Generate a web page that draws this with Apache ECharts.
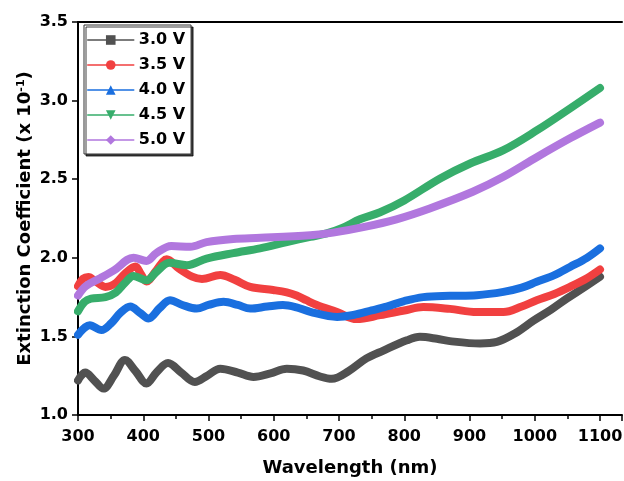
<!DOCTYPE html>
<html>
<head>
<meta charset="utf-8">
<script src="https://cdn.jsdelivr.net/npm/echarts@6/dist/echarts.min.js"></script>
<style>html,body{margin:0;padding:0;background:#fff}#c{width:624px;height:481px}</style>
</head>
<body>
<div id="c"></div>
<script>
// Data
const seriesNames = ['3.0 V', '3.5 V', '4.0 V', '4.5 V', '5.0 V'];
const xTicks = [300, 400, 500, 600, 700, 800, 900, 1000, 1100];
const yTicks = [1.0, 1.5, 2.0, 2.5, 3.0, 3.5];

const wl30 = [300, 311, 325, 339, 355, 372, 388, 405, 420, 438, 458, 479, 498, 518, 545, 569, 595, 620, 645, 671, 689, 715, 742, 768, 804, 824, 850, 870, 916, 942, 970, 998, 1025, 1049, 1075, 1100];
const v30  = [1.22, 1.27, 1.22, 1.168, 1.25, 1.35, 1.28, 1.20, 1.27, 1.33, 1.27, 1.21, 1.25, 1.295, 1.27, 1.242, 1.265, 1.295, 1.283, 1.245, 1.23, 1.28, 1.36, 1.41, 1.475, 1.497, 1.485, 1.47, 1.455, 1.465, 1.52, 1.60, 1.67, 1.74, 1.81, 1.88];

const wl35 = [300, 308, 316, 327, 342, 358, 372, 388, 396, 405, 420, 436, 455, 475, 490, 518, 540, 564, 599, 620, 635, 650, 666, 697, 727, 763, 800, 829, 870, 911, 952, 980, 1003, 1030, 1054, 1080, 1100];
const v35  = [1.82, 1.868, 1.878, 1.85, 1.815, 1.84, 1.90, 1.945, 1.90, 1.85, 1.92, 1.99, 1.93, 1.88, 1.865, 1.89, 1.86, 1.815, 1.795, 1.78, 1.76, 1.73, 1.70, 1.655, 1.61, 1.635, 1.665, 1.687, 1.675, 1.655, 1.655, 1.69, 1.73, 1.77, 1.815, 1.87, 1.925];

const wl40 = [300, 318, 336, 350, 365, 380, 395, 408, 425, 441, 460, 482, 500, 523, 545, 564, 590, 614, 635, 656, 697, 722, 750, 773, 800, 829, 870, 911, 952, 980, 1003, 1030, 1054, 1080, 1100];
const v40  = [1.51, 1.571, 1.54, 1.58, 1.65, 1.69, 1.65, 1.614, 1.68, 1.73, 1.70, 1.677, 1.70, 1.72, 1.70, 1.677, 1.69, 1.70, 1.685, 1.656, 1.624, 1.636, 1.665, 1.69, 1.725, 1.75, 1.758, 1.762, 1.783, 1.81, 1.847, 1.89, 1.942, 2.0, 2.06];

const wl45 = [300, 310, 320, 342, 358, 372, 385, 405, 420, 440, 467, 497, 538, 579, 620, 656, 681, 705, 732, 763, 800, 855, 901, 952, 1003, 1054, 1100];
const v45  = [1.66, 1.72, 1.74, 1.75, 1.78, 1.84, 1.885, 1.857, 1.91, 1.968, 1.953, 1.995, 2.03, 2.06, 2.10, 2.133, 2.155, 2.19, 2.245, 2.29, 2.365, 2.505, 2.60, 2.685, 2.81, 2.95, 3.08];

const wl50 = [300, 312, 334, 355, 385, 405, 420, 443, 472, 497, 538, 580, 656, 691, 737, 788, 839, 905, 952, 1003, 1054, 1100];
const v50  = [1.76, 1.82, 1.87, 1.92, 2.0, 1.98, 2.03, 2.075, 2.07, 2.10, 2.12, 2.127, 2.144, 2.16, 2.195, 2.245, 2.314, 2.42, 2.515, 2.64, 2.76, 2.86];

const colors = ['#515151', '#F14040', '#1A6FDF', '#37AD6B', '#B177DE'];
const symbols = ['rect', 'circle', 'triangle', 'path://M0,0 L10,0 L5,10 Z', 'diamond'];
const xs = [wl30, wl35, wl40, wl45, wl50];
const ys = [v30, v35, v40, v45, v50];

const FONT = 'DejaVu Sans';
const chart = echarts.init(document.getElementById('c'), null, {renderer: 'canvas'});

const series = seriesNames.map((n, i) => ({
  name: n,
  type: 'line',
  data: xs[i].map((x, k) => [x, ys[i][k]]),
  smooth: 0.35,
  symbol: symbols[i],
  symbolSize: 10,
  showSymbol: false,
  lineStyle: {width: 8, color: colors[i], cap: 'round', join: 'round'},
  itemStyle: {color: colors[i]},
  emphasis: {disabled: true},
  animation: false
}));

chart.setOption({
  animation: false,
  backgroundColor: '#fff',
  grid: {left: 78, top: 22, width: 544, height: 393, containLabel: false, outerBoundsMode: 'none'},
  legend: {
    orient: 'vertical',
    left: 84, top: 25,
    padding: [7, 6, 6, 3],
    itemWidth: 46, itemHeight: 12, itemGap: 9,
    backgroundColor: '#fff',
    borderColor: '#333', borderWidth: 1,
    shadowColor: 'rgba(0,0,0,0.75)', shadowOffsetX: 2, shadowOffsetY: 2, shadowBlur: 0,
    lineStyle: {width: 1.5},
    textStyle: {fontFamily: FONT, fontWeight: 'bold', fontSize: 16, color: '#000'},
    data: seriesNames.slice()
  },
  xAxis: [{
    type: 'value', min: 300, max: 1133.7, interval: 100,
    name: 'Wavelength (nm)', nameLocation: 'middle', nameGap: 44, nameMoveOverlap: false,
    nameTextStyle: {fontFamily: FONT, fontWeight: 'bold', fontSize: 18, color: '#000'},
    axisLine: {lineStyle: {color: '#000', width: 2}},
    axisTick: {inside: false, length: 6, lineStyle: {color: '#000', width: 1.5}},
    minorTick: {show: true, splitNumber: 2, length: 4, lineStyle: {color: '#000', width: 1.5}},
    splitLine: {show: false},
    axisLabel: {fontFamily: FONT, fontWeight: 'bold', fontSize: 16, color: '#000', margin: 14, showMaxLabel: false,
      formatter: v => xTicks.indexOf(v) >= 0 ? String(v) : ''}
  }, {
    type: 'value', position: 'top', min: 300, max: 1133.7,
    axisLine: {show: true, onZero: false, lineStyle: {color: '#000', width: 2}},
    axisTick: {show: false}, axisLabel: {show: false}, splitLine: {show: false}
  }],
  yAxis: {
    type: 'value', min: 1.0, max: 3.5, interval: 0.5,
    name: 'Extinction Coefficient (x 10{sup|-1})', nameLocation: 'middle', nameGap: 44, nameMoveOverlap: false,
    nameTextStyle: {fontFamily: FONT, fontWeight: 'bold', fontSize: 18, color: '#000',
      rich: {sup: {fontFamily: FONT, fontWeight: 'bold', fontSize: 11, verticalAlign: 'top', color: '#000'}}},
    axisLine: {show: true, lineStyle: {color: '#000', width: 2}},
    axisTick: {inside: false, length: 6, lineStyle: {color: '#000', width: 1.5}},
    splitLine: {show: false},
    axisLabel: {fontFamily: FONT, fontWeight: 'bold', fontSize: 16, color: '#000', margin: 10,
      formatter: v => yTicks.some(t => Math.abs(t - v) < 1e-9) ? v.toFixed(1) : ''}
  },
  series: series
});
</script>
</body>
</html>
